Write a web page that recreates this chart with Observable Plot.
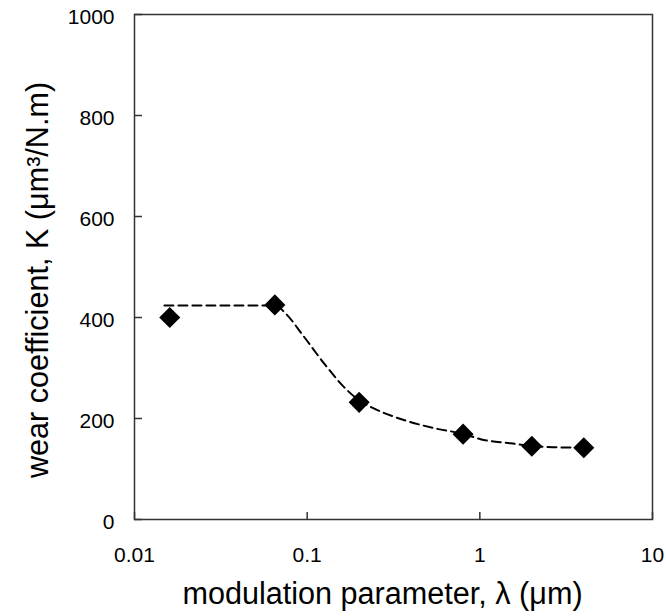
<!DOCTYPE html>
<html>
<head>
<meta charset="utf-8">
<script src="https://cdn.jsdelivr.net/npm/d3@7"></script>
<script src="https://cdn.jsdelivr.net/npm/@observablehq/plot@0.6"></script>
<style>
  html, body { margin: 0; padding: 0; background: #fff; }
  #chart svg { display: block; font-family: "Liberation Sans", Arial, sans-serif; }
</style>
</head>
<body>
<div id="chart"></div>
<script>
// measured points
const lambda = [0.016, 0.065, 0.2, 0.8, 2, 4];
const wear = [400, 425, 232, 169, 145, 142];

// dashed trend curve
const trendX = [0.0149, 0.0656, 0.075, 0.0958, 0.128, 0.167, 0.2, 0.243, 0.348, 0.541, 0.81, 1.01, 1.51, 2.04, 2.83, 4.0];
const trendY = [424, 424, 408, 362, 305, 259, 236, 220, 199, 181, 169, 159, 151, 145, 143, 142];

// axes
const xTicks = [0.01, 0.1, 1, 10];
const xTickLabels = ["0.01", "0.1", "1", "10"];
const yTicks = [0, 200, 400, 600, 800, 1000];

const xTitle = "modulation parameter, λ (μm)";
const yTitle = "wear coefficient, K (μm³/N.m)";

const points = lambda.map((x, i) => ({x, y: wear[i]}));
const trend = trendX.map((x, i) => ({x, y: trendY[i]}));

const axisColor = "#333";

const chart = Plot.plot({
  width: 666,
  height: 616,
  marginTop: 14,
  marginRight: 14,
  marginBottom: 97,
  marginLeft: 134,
  style: {fontFamily: "'Liberation Sans', Arial, sans-serif", background: "#fff"},
  x: {type: "log", domain: [0.01, 10]},
  y: {domain: [0, 1000]},
  marks: [
    // inward tick marks
    Plot.axisX({
      ticks: xTicks,
      tickFormat: () => "",
      tickSize: 7,
      dy: -7,
      stroke: axisColor,
      strokeWidth: 1.5,
      label: null
    }),
    Plot.axisY({
      ticks: yTicks,
      tickFormat: () => "",
      tickSize: 8,
      dx: 8,
      stroke: axisColor,
      strokeWidth: 1.5,
      label: null
    }),
    // tick labels
    Plot.axisX({
      ticks: xTicks,
      tickFormat: d => xTickLabels[xTicks.indexOf(d)],
      tickSize: 0,
      tickPadding: 28,
      fill: "#000",
      fontSize: 21,
      label: null
    }),
    Plot.axisY({
      ticks: yTicks,
      tickFormat: d => String(d),
      tickSize: 0,
      tickPadding: 20,
      dy: 3,
      fill: "#000",
      fontSize: 21,
      label: null
    }),
    Plot.frame({stroke: axisColor, strokeWidth: 1.5}),
    Plot.line(trend, {
      x: "x", y: "y",
      curve: "monotone-x",
      stroke: "#000",
      strokeWidth: 2,
      strokeDasharray: "9,5"
    }),
    Plot.dot(points, {
      x: "x", y: "y",
      symbol: "diamond2",
      r: 9.5,
      fill: "#000",
      stroke: "none"
    }),
    Plot.text([xTitle], {
      frameAnchor: "bottom",
      lineAnchor: "bottom",
      textAnchor: "middle",
      dy: 84,
      dx: -11,
      fontSize: 30.6,
      fill: "#000"
    }),
    Plot.text([yTitle], {
      frameAnchor: "left",
      lineAnchor: "bottom",
      textAnchor: "middle",
      rotate: -90,
      dx: -87,
      dy: 13,
      fontSize: 30.6,
      fill: "#000"
    })
  ]
});

document.getElementById("chart").appendChild(chart);
</script>
</body>
</html>
